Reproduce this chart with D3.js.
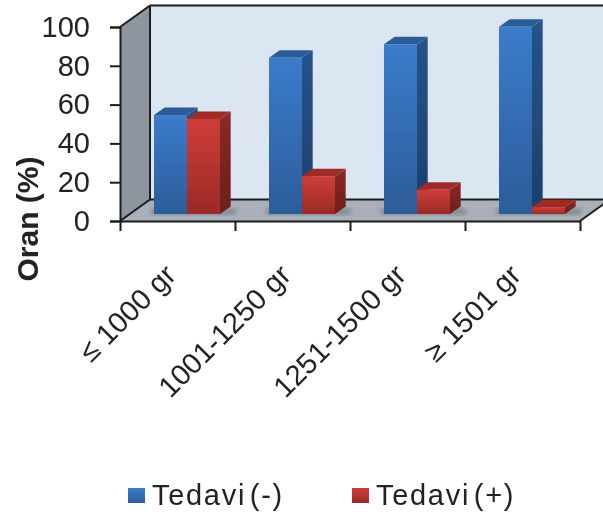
<!DOCTYPE html>
<html>
<head>
<meta charset="utf-8">
<script src="https://d3js.org/d3.v7.min.js"></script>
<style>
html, body { margin: 0; padding: 0; background: #fff; overflow: hidden; }
text { font-family: "Liberation Sans", Arial, sans-serif; fill: #222; }
</style>
</head>
<body>
<svg id="chart" width="603" height="515"></svg>
<script>
const categories = ["≤ 1000 gr", "1001-1250 gr", "1251-1500 gr", "≥ 1501 gr"];
const seriesNames = ["Tedavi (-)", "Tedavi (+)"];
const tedaviNeg = [51, 80.5, 87.5, 96.5];
const tedaviPos = [49, 19.5, 12.5, 3.5];
const yTicks = [0, 20, 40, 60, 80, 100];

const svg = d3.select("#chart");

// plot box, front edge of the floor
const left = 120, right = 580, bottom = 221, plotTop = 27;
// 3d offsets
const wallDx = 30, wallDy = -21.5;
const barDx = 10.7, barDy = -7.5;
const barBase = 214, barShift = 9.5;

const x = d3.scaleBand().domain(categories).range([left, right]);
const inner = d3.scaleBand().domain(seriesNames).range([0, 66]);
const y = d3.scaleLinear().domain([0, 100]).range([bottom, plotTop]);
const yBar = d3.scaleLinear().domain([0, 100]).range([barBase, barBase - (bottom - plotTop)]);
const tickX = d3.scaleLinear().domain([0, 4]).range([left, right]);

const colors = [
    { top: "#2b5c98", side0: "#25538a", side1: "#1d3f6b", front0: "#3b7ccb", front1: "#2c5c9a" },
    { top: "#a02c28", side0: "#8a2a26", side1: "#6a1f1c", front0: "#cf3d38", front1: "#9a2a26" }
];

const defs = svg.append("defs");
defs.append("filter").attr("id", "soft")
    .append("feGaussianBlur").attr("stdDeviation", 0.6);
defs.append("filter").attr("id", "shadow")
    .append("feGaussianBlur").attr("stdDeviation", 2);
colors.forEach((c, i) => {
    const front = defs.append("linearGradient").attr("id", "front" + i)
        .attr("x1", 0).attr("y1", 0).attr("x2", 0).attr("y2", 1);
    front.append("stop").attr("offset", 0).attr("stop-color", c.front0);
    front.append("stop").attr("offset", 1).attr("stop-color", c.front1);
    const side = defs.append("linearGradient").attr("id", "side" + i)
        .attr("x1", 0).attr("y1", 0).attr("x2", 0).attr("y2", 1);
    side.append("stop").attr("offset", 0).attr("stop-color", c.side0);
    side.append("stop").attr("offset", 1).attr("stop-color", c.side1);
});

const pts = a => a.map(p => p.join(",")).join(" ");
const plot = svg.append("g").attr("filter", "url(#soft)");

// walls and floor
plot.append("rect")
    .attr("x", left + wallDx).attr("y", plotTop + wallDy)
    .attr("width", 603 - left - wallDx + 10).attr("height", bottom - plotTop)
    .attr("fill", "#dce6f2");
plot.append("polygon")
    .attr("points", pts([[left, plotTop], [left + wallDx, plotTop + wallDy], [left + wallDx, bottom + wallDy], [left, bottom]]))
    .attr("fill", "#8e959e");
plot.append("polygon")
    .attr("points", pts([[left, bottom], [left + wallDx, bottom + wallDy], [right + wallDx, bottom + wallDy], [right, bottom]]))
    .attr("fill", "#a9b0b9");

const wallLine = [
    [[left, plotTop], [left + wallDx, plotTop + wallDy]],
    [[left + wallDx, plotTop + wallDy], [603, plotTop + wallDy]],
    [[left + wallDx, plotTop + wallDy], [left + wallDx, bottom + wallDy]],
    [[left + wallDx, bottom + wallDy], [right + wallDx, bottom + wallDy]],
    [[left, bottom], [left + wallDx, bottom + wallDy]],
    [[right, bottom], [right + wallDx, bottom + wallDy]]
];
plot.selectAll("line.wall").data(wallLine).enter().append("line")
    .attr("class", "wall")
    .attr("x1", d => d[0][0]).attr("y1", d => d[0][1])
    .attr("x2", d => d[1][0]).attr("y2", d => d[1][1])
    .attr("stroke", "#1c1c1c").attr("stroke-width", 2);

// axes
const yAxis = plot.append("g")
    .attr("transform", "translate(" + left + ",0)")
    .call(d3.axisLeft(y).tickValues(yTicks).tickSize(10).tickPadding(20));
yAxis.selectAll("text").style("font-size", "29px").attr("fill", "#222");
yAxis.selectAll("line, path").attr("stroke", "#1c1c1c").attr("stroke-width", 2);

const xAxis = plot.append("g")
    .attr("transform", "translate(0," + bottom + ")")
    .call(d3.axisBottom(tickX).tickValues([0, 1, 2, 3, 4]).tickFormat("").tickSize(10).tickSizeOuter(0));
xAxis.selectAll("line, path").attr("stroke", "#1c1c1c").attr("stroke-width", 2);

// category labels
plot.selectAll("text.cat").data(categories).enter().append("text")
    .attr("class", "cat")
    .attr("text-anchor", "end")
    .attr("transform", d => "translate(" + (x(d) + x.bandwidth() / 2) + ",277) rotate(-45)")
    .style("font-size", "29px")
    .text(d => d);

plot.append("text")
    .attr("transform", "translate(37.5,219) rotate(-90)")
    .attr("text-anchor", "middle")
    .style("font-size", "30px")
    .style("font-weight", "bold")
    .text("Oran (%)");

// bars, one record per series and category
const barData = [];
categories.forEach((c, i) => {
    barData.push({ cat: c, name: seriesNames[0], value: tedaviNeg[i], s: 0 });
    barData.push({ cat: c, name: seriesNames[1], value: tedaviPos[i], s: 1 });
});
const barX = d => x(d.cat) + x.bandwidth() / 2 - inner.bandwidth() + barShift + inner(d.name);

// soft shadow on the floor
plot.selectAll("rect.shadow").data(categories).enter().append("rect")
    .attr("class", "shadow")
    .attr("x", d => x(d) + x.bandwidth() / 2 - inner.bandwidth() + barShift - 3)
    .attr("y", barBase - 6)
    .attr("width", 66 + barDx + 8).attr("height", 7)
    .attr("fill", "#6f757c").attr("opacity", 0.6)
    .attr("filter", "url(#shadow)");

const bars = plot.selectAll("g.bar").data(barData).enter().append("g").attr("class", "bar");
bars.append("polygon")
    .attr("points", d => {
        const x0 = barX(d), w = inner.bandwidth(), yt = yBar(d.value);
        return pts([[x0 + w, yt], [x0 + w + barDx, yt + barDy], [x0 + w + barDx, barBase + barDy], [x0 + w, barBase]]);
    })
    .attr("fill", d => "url(#side" + d.s + ")");
bars.append("polygon")
    .attr("points", d => {
        const x0 = barX(d), w = inner.bandwidth(), yt = yBar(d.value);
        return pts([[x0, yt], [x0 + barDx, yt + barDy], [x0 + w + barDx, yt + barDy], [x0 + w, yt]]);
    })
    .attr("fill", d => colors[d.s].top);
bars.append("rect")
    .attr("x", barX)
    .attr("y", d => yBar(d.value))
    .attr("width", inner.bandwidth())
    .attr("height", d => barBase - yBar(d.value))
    .attr("fill", d => "url(#front" + d.s + ")");

// legend
const legendX = [128, 352];
const legend = plot.selectAll("g.legend").data(seriesNames).enter().append("g")
    .attr("class", "legend")
    .attr("transform", (d, i) => "translate(" + legendX[i] + ",487)");
legend.append("rect")
    .attr("y", 1)
    .attr("width", 17).attr("height", 15)
    .attr("fill", (d, i) => "url(#front" + i + ")");
legend.append("text")
    .attr("x", 24).attr("y", 18)
    .style("font-size", "29px")
    .style("letter-spacing", "1.7px")
    .style("word-spacing", "-6px")
    .text(d => d);
</script>
</body>
</html>
